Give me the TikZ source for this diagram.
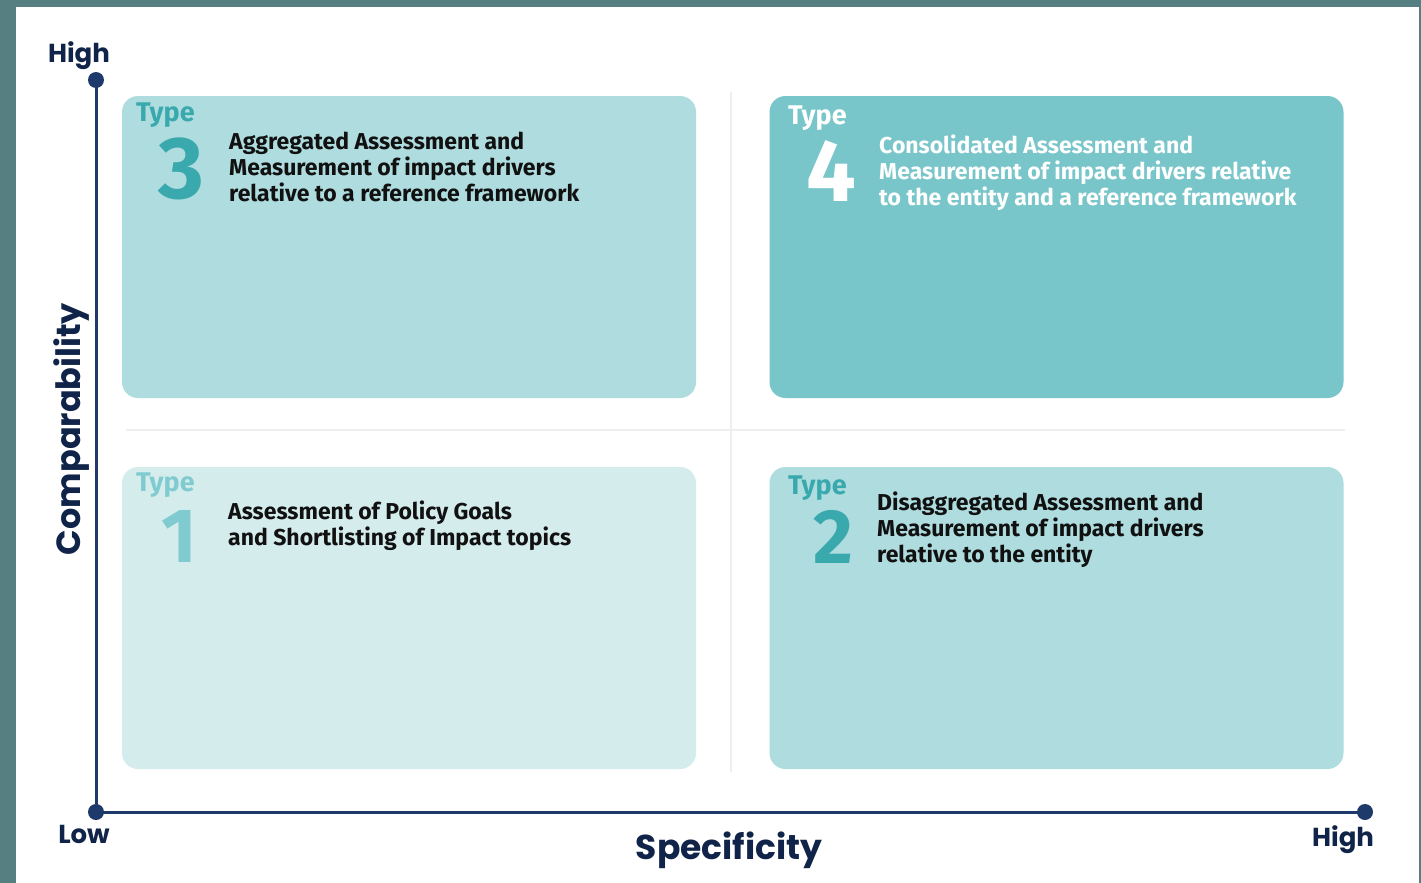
\documentclass[tikz,border=0pt]{standalone}
\usepackage{fontspec}
\setmainfont{Fira Sans}
\newfontfamily\headfont{Poppins}
\definecolor{framecol}{RGB}{85,127,128}
\definecolor{axiscol}{RGB}{30,58,106}
\definecolor{headcol}{RGB}{15,36,72}
\definecolor{boxmid}{RGB}{174,220,223}
\definecolor{boxdark}{RGB}{121,198,202}
\definecolor{boxpale}{RGB}{213,236,237}
\definecolor{tealtext}{RGB}{58,169,173}
\definecolor{paletext}{RGB}{128,203,207}
\definecolor{gridcol}{RGB}{238,238,238}
\definecolor{bodytext}{RGB}{17,17,17}
\tikzset{
  quad/.style={rounded corners=16pt, minimum width=574pt, minimum height=302pt, inner sep=0pt, draw=none},
  typelabel/.style={anchor=base west, inner sep=0pt, font=\fontsize{27}{27}\selectfont\bfseries},
  bigdigit/.style={anchor=base, inner sep=0pt, font=\fontsize{88}{88}\selectfont\bfseries},
  smalldigit/.style={anchor=base, inner sep=0pt, font=\fontsize{77}{77}\selectfont\bfseries},
  desc/.style={anchor=base west, inner sep=0pt, align=left, text=bodytext, font=\fontsize{23}{25.6}\selectfont\bfseries},
  axisline/.style={draw=axiscol, line width=3pt},
  axisdot/.style={fill=axiscol},
  gridline/.style={draw=gridcol, line width=2pt},
  axislabel/.style={inner sep=0pt, text=headcol, font=\headfont\fontsize{26}{26}\selectfont\bfseries},
  axistitle/.style={inner sep=0pt, text=headcol, font=\headfont\fontsize{34.5}{34.5}\selectfont\bfseries}
}
\begin{document}
\begin{tikzpicture}[x=1pt,y=-1pt]
% frame and canvas
\fill[framecol] (0,0) rectangle (1421,883);
\fill[white] (16,7) rectangle (1419,883);
\useasboundingbox (0,0) rectangle (1421,883);

% faint quadrant dividers
\draw[gridline] (126,430) -- (1345,430);
\draw[gridline] (731,92) -- (731,772);

% quadrants
\node[quad, fill=boxmid]  (q3) at (409,247) {};
\node[quad, fill=boxdark] (q4) at (1056.5,247) {};
\node[quad, fill=boxpale] (q1) at (409,618) {};
\node[quad, fill=boxmid]  (q2) at (1056.5,618) {};

% Type 3 (anchor is the baseline of the last line)
\node[typelabel, text=tealtext] (t3) at (136,121) {Type};
\node[bigdigit, text=tealtext] (d3) at (181,198) {3};
\node[desc] (x3) at (229,201) {Aggregated Assessment and\\Measurement of impact drivers\\relative to a reference framework};

% Type 4
\node[typelabel, text=white] (t4) at (788,124) {Type};
\node[bigdigit, text=white] (d4) at (831,201) {4};
\node[desc, text=white] (x4) at (879,205) {Consolidated Assessment and\\Measurement of impact drivers relative\\to the entity and a reference framework};

% Type 1
\node[typelabel, text=paletext] (t1) at (136,491) {Type};
\node[smalldigit, text=paletext] (d1) at (179,562) {1};
\node[desc] (x1) at (228,545) {Assessment of Policy Goals\\and Shortlisting of Impact topics};

% Type 2
\node[typelabel, text=tealtext] (t2) at (788,494) {Type};
\node[smalldigit, text=tealtext] (d2) at (833,563) {2};
\node[desc] (x2) at (877,562) {Disaggregated Assessment and\\Measurement of impact drivers\\relative to the entity};

% axes
\coordinate (ytop) at (96,80);
\coordinate (orig) at (96,812);
\coordinate (xend) at (1365,812);
\draw[axisline] (ytop) -- (orig) -- (xend);
\fill[axisdot] (ytop) circle (8pt);
\fill[axisdot] (orig) circle (8pt);
\fill[axisdot] (xend) circle (8pt);

\node[axislabel, anchor=base] (yhigh) at (79,63) {High};
\node[axislabel, anchor=base] (xlow) at (84,843) {Low};
\node[axislabel, anchor=base] (xhigh) at (1343,846) {High};
\node[axistitle, anchor=base] (xtitle) at (729,859) {Specificity};
\node[axistitle, rotate=90, anchor=base, font=\headfont\fontsize{33.5}{33.5}\selectfont\bfseries] (ytitle) at (80,429) {Comparability};
\end{tikzpicture}
\end{document}
